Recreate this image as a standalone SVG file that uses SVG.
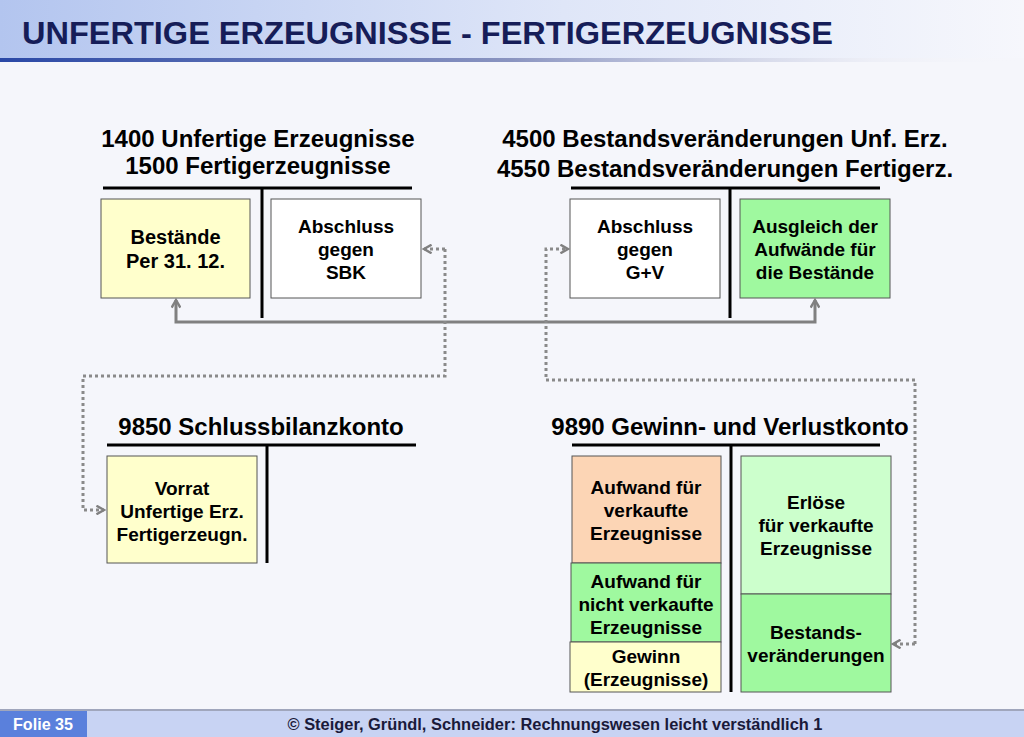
<svg xmlns="http://www.w3.org/2000/svg" width="1024" height="737" viewBox="0 0 1024 737">
<defs>
<linearGradient id="hdr" x1="0" y1="0" x2="1" y2="0">
<stop offset="0" stop-color="#b3c5ef"/>
<stop offset="0.55" stop-color="#dfe6f8"/>
<stop offset="1" stop-color="#f6f7fc"/>
</linearGradient>
<linearGradient id="bar" x1="0" y1="0" x2="1" y2="0">
<stop offset="0" stop-color="#2a48a6"/>
<stop offset="0.5" stop-color="#8a94c0"/>
<stop offset="0.85" stop-color="#e8eaf4" stop-opacity="0.6"/>
<stop offset="1" stop-color="#f5f6fb" stop-opacity="0"/>
</linearGradient>
<marker id="ah" viewBox="0 0 10 10" refX="8" refY="5" markerWidth="3.6" markerHeight="3.6" orient="auto-start-reverse" markerUnits="strokeWidth">
<path d="M1,1 L8,5 L1,9" fill="none" stroke="#808080" stroke-width="2.2"/>
</marker>
</defs>
<style>
text{font-family:"Liberation Sans",Arial,sans-serif;font-weight:bold;fill:#000;text-anchor:middle}
.h{font-size:24px}
.b{font-size:19px}
.bb{font-size:20px}
.box{stroke:#555;stroke-width:1}
.tl{stroke:#000;stroke-width:3;fill:none}
.solid{stroke:#808080;stroke-width:3;fill:none}
.dot{stroke:#8a8a8a;stroke-width:3;fill:none;stroke-dasharray:3 3}
</style>
<rect width="1024" height="737" fill="#f5f6fb"/>
<rect x="0" y="0" width="1024" height="58" fill="url(#hdr)"/>
<rect x="0" y="58" width="1024" height="4" fill="url(#bar)"/>
<text x="22" y="44" style="font-size:31px;fill:#161d58;text-anchor:start" textLength="811" lengthAdjust="spacingAndGlyphs">UNFERTIGE ERZEUGNISSE - FERTIGERZEUGNISSE</text>

<g id="konto1400">
<text class="h" x="258" y="147">1400 Unfertige Erzeugnisse</text>
<text class="h" x="258" y="174">1500 Fertigerzeugnisse</text>
<path class="tl" d="M103,188 H412 M262,188 V318"/>
<rect class="box" x="101" y="199" width="149" height="99" fill="#ffffcc"/>
<text class="bb" x="175.5" y="244">Bestände</text>
<text class="bb" x="175.5" y="268">Per 31. 12.</text>
<rect class="box" x="271" y="199" width="150" height="99" fill="#ffffff"/>
<text class="b" x="346" y="233">Abschluss</text>
<text class="b" x="346" y="256">gegen</text>
<text class="b" x="346" y="279">SBK</text>
</g>

<g id="konto4500">
<text class="h" x="725" y="147">4500 Bestandsveränderungen Unf. Erz.</text>
<text class="h" x="725" y="177">4550 Bestandsveränderungen Fertigerz.</text>
<path class="tl" d="M571,188 H880 M730,188 V318"/>
<rect class="box" x="570" y="199" width="150" height="99" fill="#ffffff"/>
<text class="b" x="645" y="233">Abschluss</text>
<text class="b" x="645" y="256">gegen</text>
<text class="b" x="645" y="279">G+V</text>
<rect class="box" x="740" y="199" width="150" height="99" fill="#9ff99f"/>
<text class="b" x="815" y="233">Ausgleich der</text>
<text class="b" x="815" y="256">Aufwände für</text>
<text class="b" x="815" y="279">die Bestände</text>
</g>

<g id="konto9850">
<text class="h" x="261" y="435">9850 Schlussbilanzkonto</text>
<path class="tl" d="M107,445 H416 M267,445 V563"/>
<rect class="box" x="107" y="456" width="150" height="107" fill="#ffffcc"/>
<text class="b" x="182" y="495">Vorrat</text>
<text class="b" x="182" y="518">Unfertige Erz.</text>
<text class="b" x="182" y="541">Fertigerzeugn.</text>
</g>

<g id="konto9890">
<text class="h" x="730" y="435">9890 Gewinn- und Verlustkonto</text>
<path class="tl" d="M572,445 H880 M731,445 V692"/>
<rect class="box" x="572" y="456" width="149" height="107" fill="#fcd5b5"/>
<text class="b" x="646" y="494">Aufwand für</text>
<text class="b" x="646" y="517">verkaufte</text>
<text class="b" x="646" y="540">Erzeugnisse</text>
<rect class="box" x="571" y="563" width="150" height="79" fill="#9ff99f"/>
<text class="b" x="646" y="588">Aufwand für</text>
<text class="b" x="646" y="611">nicht verkaufte</text>
<text class="b" x="646" y="634">Erzeugnisse</text>
<rect class="box" x="570" y="642" width="151" height="50" fill="#ffffcc"/>
<text class="b" x="646" y="663">Gewinn</text>
<text class="b" x="646" y="686">(Erzeugnisse)</text>
<rect class="box" x="741" y="456" width="150" height="138" fill="#ccffcc"/>
<text class="b" x="816" y="509">Erlöse</text>
<text class="b" x="816" y="532">für verkaufte</text>
<text class="b" x="816" y="555">Erzeugnisse</text>
<rect class="box" x="741" y="594" width="150" height="98" fill="#9ff99f"/>
<text class="b" x="816" y="639">Bestands-</text>
<text class="b" x="816" y="662">veränderungen</text>
</g>

<g id="connectors">
<path class="solid" d="M176,300 V322 H815 V300" marker-start="url(#ah)" marker-end="url(#ah)"/>
<path class="dot" d="M445,249 V376 H83 V510 H104" marker-end="url(#ah)"/>
<path class="dot" d="M445,249 H424" marker-end="url(#ah)"/>
<path class="dot" d="M915,644 V380 H546 V249 H568" marker-end="url(#ah)"/>
<path class="dot" d="M915,644 H893" marker-end="url(#ah)"/>
</g>

<g id="footer">
<rect x="0" y="711" width="1024" height="26" fill="#c8d3f3"/>
<rect x="0" y="709" width="1024" height="2" fill="#a0a6bc"/>
<rect x="0" y="711" width="87" height="26" fill="#5a80dc"/>
<text x="43" y="730" style="font-size:16.5px;fill:#fff" textLength="60" lengthAdjust="spacingAndGlyphs">Folie 35</text>
<text x="555" y="730" style="font-size:16.5px;fill:#1a1a3a" textLength="535" lengthAdjust="spacingAndGlyphs">© Steiger, Gründl, Schneider: Rechnungswesen leicht verständlich 1</text>
</g>
</svg>
